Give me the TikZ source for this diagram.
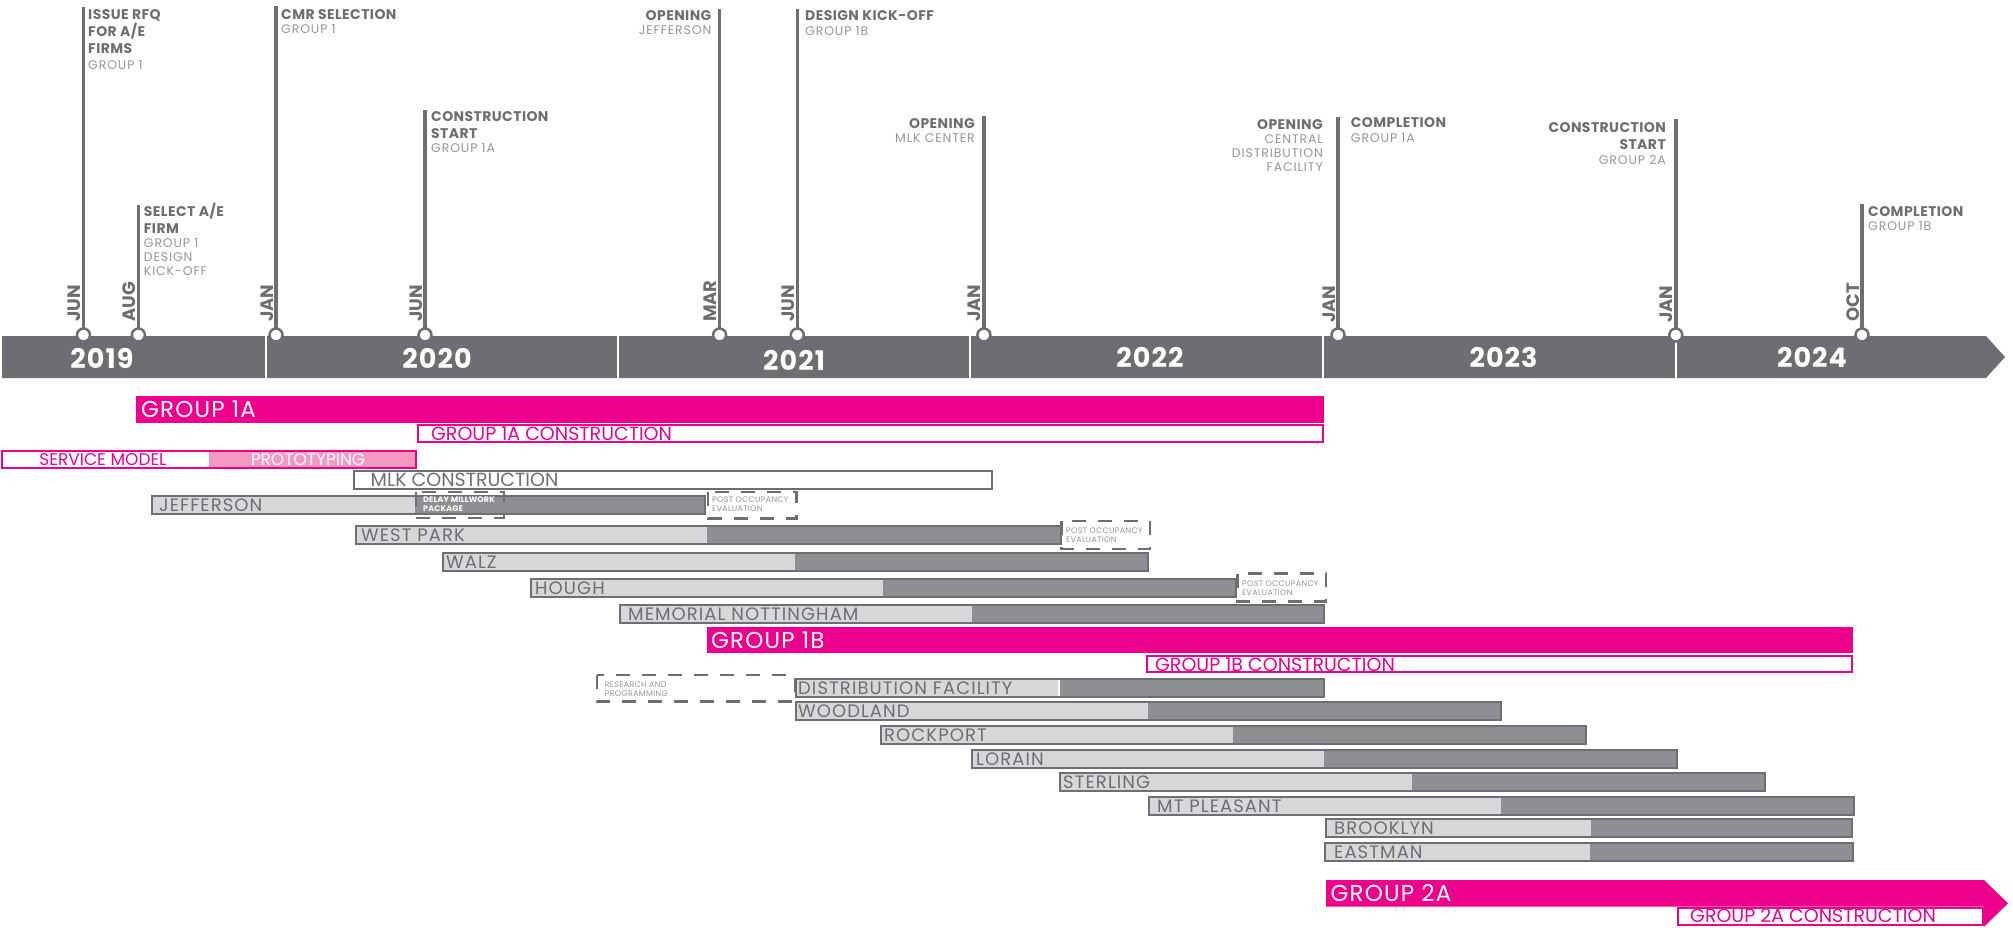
\documentclass[tikz,border=0pt]{standalone}
\usepackage{fontspec}
\setmainfont{Poppins}
\usetikzlibrary{positioning}
\definecolor{slate}{HTML}{6D6E71}
\definecolor{barlight}{HTML}{D6D7D9}
\definecolor{bardark}{HTML}{8E8F92}
\definecolor{subgray}{HTML}{939598}
\definecolor{hotpink}{HTML}{EC008C}
\definecolor{softpink}{HTML}{F49AC1}
\tikzstyle{stem} = [slate,line width=3.5pt]
\tikzstyle{datedot} = [circle,draw=slate,fill=white,line width=2.5pt,minimum size=13pt,inner sep=0pt]
\tikzstyle{monthlbl} = [rotate=90,anchor=base west,inner sep=0pt,text=slate,font=\fontsize{18}{18}\selectfont\bfseries]
\tikzstyle{yearlbl} = [inner sep=0pt,text=white,font=\fontsize{27}{27}\selectfont\bfseries\addfontfeature{LetterSpace=4}]
\tikzstyle{evtitle} = [inner sep=0pt,text=slate,font=\fontsize{14}{17}\selectfont\bfseries\addfontfeature{LetterSpace=3}]
\tikzstyle{evsub} = [inner sep=0pt,text=subgray,font=\fontsize{12.5}{13.8}\selectfont\addfontfeature{LetterSpace=7}]
\tikzstyle{outline} = [draw=slate,line width=2.5pt]
\tikzstyle{pending} = [draw=slate,line width=2.5pt,dash pattern=on 14pt off 12pt]
\tikzstyle{barname} = [anchor=west,inner sep=0pt,text=slate,font=\fontsize{18}{18}\selectfont\addfontfeature{LetterSpace=6}]
\tikzstyle{smallnote} = [anchor=north west,inner sep=0pt,align=left,text=subgray,font=\fontsize{8}{9}\selectfont\addfontfeature{LetterSpace=4}]
\tikzstyle{groupname} = [anchor=west,inner sep=0pt,text=white,font=\fontsize{23}{23}\selectfont\addfontfeature{LetterSpace=5}]
\tikzstyle{phase} = [anchor=west,inner sep=0pt,text=hotpink,font=\fontsize{19}{19}\selectfont]
\tikzstyle{phasebox} = [draw=hotpink,line width=2pt,fill=white]
\tikzstyle{svc} = [inner sep=0pt,font=\fontsize{17}{17}\selectfont]

\begin{document}
\begin{tikzpicture}[x=1pt,y=-1pt]
\useasboundingbox (0,0) rectangle (2013,927);

% milestone stems
\draw[stem] (83.5,334) -- (83.5,7);
\draw[stem] (138.4,334) -- (138.4,205);
\draw[stem] (276,334) -- (276,6);
\draw[stem] (425,334) -- (425,110);
\draw[stem] (719.6,334) -- (719.6,9);
\draw[stem] (797.3,334) -- (797.3,9);
\draw[stem] (983.9,334) -- (983.9,116);
\draw[stem] (1338,334) -- (1338,116.7);
\draw[stem] (1675.8,334) -- (1675.8,119);
\draw[stem] (1862,334) -- (1862,204);

% time axis
\fill[slate] (2,336) -- (1986,336) -- (2005,357) -- (1986,378) -- (2,378) -- cycle;
\draw[white,line width=1.5pt] (266,336) -- (266,378) (618,336) -- (618,378) (970,336) -- (970,378) (1323,336) -- (1323,378) (1676,336) -- (1676,378);
\node[yearlbl] (y2019) at (102,358) {2019};
\node[yearlbl] (y2020) at (437,358) {2020};
\node[yearlbl] (y2021) at (794,360) {2021};
\node[yearlbl] (y2022) at (1150,357) {2022};
\node[yearlbl] (y2023) at (1503.5,357) {2023};
\node[yearlbl] (y2024) at (1812,357) {2024};

\node[datedot] (djun19) at (83.5,335) {};
\node[datedot] (daug19) at (138.4,335) {};
\node[datedot] (djan20) at (276,335) {};
\node[datedot] (djun20) at (425,335) {};
\node[datedot] (dmar21) at (719.6,335) {};
\node[datedot] (djun21) at (797.3,335) {};
\node[datedot] (djan22) at (983.9,335) {};
\node[datedot] (djan23) at (1338,335) {};
\node[datedot] (djan24) at (1675.8,335) {};
\node[datedot] (doct24) at (1862,335) {};

\node[monthlbl] (mjun19) at (80,322) {JUN};
\node[monthlbl] (maug19) at (135.4,322) {AUG};
\node[monthlbl] (mjan20) at (273,322) {JAN};
\node[monthlbl] (mjun20) at (422,322) {JUN};
\node[monthlbl] (mmar21) at (716.6,322) {MAR};
\node[monthlbl] (mjun21) at (794.3,322) {JUN};
\node[monthlbl] (mjan22) at (980.9,322) {JAN};
\node[monthlbl] (mjan23) at (1335,323) {JAN};
\node[monthlbl] (mjan24) at (1672.8,323) {JAN};
\node[monthlbl] (moct24) at (1859,322) {OCT};

% milestone labels
\node[evtitle,anchor=north west,align=left] (rfq) at (88,9.5) {ISSUE RFQ\\FOR A/E\\FIRMS};
\node[evsub,below=6pt of rfq.south west,anchor=north west,align=left] (rfqsub) {GROUP 1};
\node[evtitle,anchor=north west,align=left] (selae) at (143.7,202.5) {SELECT A/E\\FIRM};
\node[evsub,below=5pt of selae.south west,anchor=north west,align=left] (selaesub) {GROUP 1\\DESIGN\\KICK-OFF};
\node[evtitle,anchor=north west,align=left] (cmr) at (281,9) {CMR SELECTION};
\node[evsub,below=5pt of cmr.south west,anchor=north west,align=left] (cmrsub) {GROUP 1};
\node[evtitle,anchor=north west,align=left] (cst1a) at (431,111) {CONSTRUCTION\\START};
\node[evsub,below=5pt of cst1a.south west,anchor=north west,align=left] (cst1asub) {GROUP 1A};
\node[evtitle,anchor=north east,align=right] (openjeff) at (711.6,10.5) {OPENING};
\node[evsub,below=5pt of openjeff.south east,anchor=north east,align=right] (openjeffsub) {JEFFERSON};
\node[evtitle,anchor=north west,align=left] (kick1b) at (805,10.5) {DESIGN KICK-OFF};
\node[evsub,below=5pt of kick1b.south west,anchor=north west,align=left] (kick1bsub) {GROUP 1B};
\node[evtitle,anchor=north east,align=right] (openmlk) at (975,118) {OPENING};
\node[evsub,below=5pt of openmlk.south east,anchor=north east,align=right] (openmlksub) {MLK CENTER};
\node[evtitle,anchor=north east,align=right] (opencdf) at (1323,119.5) {OPENING};
\node[evsub,below=4.5pt of opencdf.south east,anchor=north east,align=right] (opencdfsub) {CENTRAL\\DISTRIBUTION\\FACILITY};
\node[evtitle,anchor=north west,align=left] (comp1a) at (1350.7,117.8) {COMPLETION};
\node[evsub,below=5pt of comp1a.south west,anchor=north west,align=left] (comp1asub) {GROUP 1A};
\node[evtitle,anchor=north east,align=right] (cst2a) at (1666,122.3) {CONSTRUCTION\\START};
\node[evsub,below=5pt of cst2a.south east,anchor=north east,align=right] (cst2asub) {GROUP 2A};
\node[evtitle,anchor=north west,align=left] (comp1b) at (1868,206) {COMPLETION};
\node[evsub,below=5pt of comp1b.south west,anchor=north west,align=left] (comp1bsub) {GROUP 1B};

% group 1A
\fill[hotpink] (136,396) rectangle (1324,423);
\node[groupname] (g1a) at (141,409.5) {GROUP 1A};
\draw[phasebox] (418.4,425.3) rectangle (1322.5,442.3);
\node[phase] (g1acons) at (431,433.5) {GROUP 1A CONSTRUCTION};
\fill[softpink] (209,451.3) rectangle (415.5,468.3);
\draw[draw=hotpink,line width=2pt] (2.3,451.3) rectangle (415.5,468.3);
\node[svc,text=hotpink] (svcmodel) at (103,460) {SERVICE MODEL};
\node[svc,text=white] (proto) at (308,460) {PROTOTYPING};
\draw[outline,fill=white] (354,471) rectangle (992,489);
\node[barname,font=\fontsize{19}{19}\selectfont] (mlk) at (370.5,480) {MLK CONSTRUCTION};

\fill[barlight] (152,496) rectangle (415,514);
\fill[bardark] (415,496) rectangle (705,514);
\draw[outline] (152,496) rectangle (705,514);
\node[barname] (jefferson) at (159,505) {JEFFERSON};
\draw[pending] (416,492) rectangle (504,518);
\node[smallnote,text=white,font=\fontsize{8}{9}\selectfont\bfseries\addfontfeature{LetterSpace=2}] (delay) at (423,497) {DELAY MILLWORK\\PACKAGE};
\draw[pending,fill=white] (708,492) rectangle (796.4,518.3);
\node[smallnote] (post1) at (712,497) {POST OCCUPANCY\\EVALUATION};

\fill[barlight] (356,526) rectangle (707,544);
\fill[bardark] (707,526) rectangle (1061,544);
\draw[outline] (356,526) rectangle (1061,544);
\node[barname] (westpark) at (361,535) {WEST PARK};
\draw[pending,fill=white] (1061.7,521) rectangle (1150,549);
\node[smallnote] (post2) at (1066,528) {POST OCCUPANCY\\EVALUATION};

\fill[barlight] (443,553) rectangle (795,571);
\fill[bardark] (795,553) rectangle (1148,571);
\draw[outline] (443,553) rectangle (1148,571);
\node[barname] (walz) at (446,562) {WALZ};

\fill[barlight] (531,579) rectangle (883,597);
\fill[bardark] (883,579) rectangle (1236,597);
\draw[outline] (531,579) rectangle (1236,597);
\node[barname] (hough) at (535,588) {HOUGH};
\draw[pending,fill=white] (1237.7,573.7) rectangle (1326,601.3);
\node[smallnote] (post3) at (1242,580.5) {POST OCCUPANCY\\EVALUATION};

\fill[barlight] (620,605) rectangle (972,623);
\fill[bardark] (972,605) rectangle (1324,623);
\draw[outline] (620,605) rectangle (1324,623);
\node[barname] (memorial) at (628,614) {MEMORIAL NOTTINGHAM};

% group 1B
\fill[hotpink] (707,627) rectangle (1852.5,653.3);
\node[groupname] (g1b) at (711,640) {GROUP 1B};
\draw[phasebox] (1147,656) rectangle (1851.5,672.3);
\node[phase] (g1bcons) at (1155,664.3) {GROUP 1B CONSTRUCTION};

\draw[pending] (597,675) rectangle (795,701.7);
\node[smallnote] (research) at (604.6,681.5) {RESEARCH AND\\PROGRAMMING};

\fill[barlight] (796,679) rectangle (1059,697);
\fill[bardark] (1059,679) rectangle (1324,697);
\draw[white,line width=1.2pt] (1059,680) -- (1059,696);
\draw[outline] (796,679) rectangle (1324,697);
\node[barname] (distrib) at (798,688) {DISTRIBUTION FACILITY};

\fill[barlight] (796,702) rectangle (1148,720);
\fill[bardark] (1148,702) rectangle (1501,720);
\draw[outline] (796,702) rectangle (1501,720);
\node[barname] (woodland) at (798,711) {WOODLAND};

\fill[barlight] (881,726) rectangle (1233,744);
\fill[bardark] (1233,726) rectangle (1586,744);
\draw[outline] (881,726) rectangle (1586,744);
\node[barname] (rockport) at (884,735) {ROCKPORT};

\fill[barlight] (972,750) rectangle (1324,768);
\fill[bardark] (1324,750) rectangle (1677,768);
\draw[outline] (972,750) rectangle (1677,768);
\node[barname] (lorain) at (976,759) {LORAIN};

\fill[barlight] (1060,773) rectangle (1412,791);
\fill[bardark] (1412,773) rectangle (1765,791);
\draw[outline] (1060,773) rectangle (1765,791);
\node[barname] (sterling) at (1063,782) {STERLING};

\fill[barlight] (1149,797) rectangle (1501,815);
\fill[bardark] (1501,797) rectangle (1854,815);
\draw[outline] (1149,797) rectangle (1854,815);
\node[barname] (mtpleasant) at (1157,806) {MT PLEASANT};

\fill[barlight] (1326,819) rectangle (1591,837);
\fill[bardark] (1591,819) rectangle (1852,837);
\draw[outline] (1326,819) rectangle (1852,837);
\node[barname] (brooklyn) at (1334,828) {BROOKLYN};

\fill[barlight] (1325,843) rectangle (1590,861);
\fill[bardark] (1590,843) rectangle (1853,861);
\draw[outline] (1325,843) rectangle (1853,861);
\node[barname] (eastman) at (1334,852) {EASTMAN};

% group 2A
\fill[hotpink] (1326,880) -- (1984,880) -- (2008,903.3) -- (1984,926.7) -- (1984,906.7) -- (1326,906.7) -- cycle;
\node[groupname] (g2a) at (1330.5,893.5) {GROUP 2A};
\draw[phasebox] (1678.4,908.3) rectangle (1983,924.7);
\node[phase] (g2acons) at (1690,916) {GROUP 2A CONSTRUCTION};
\end{tikzpicture}
\end{document}
